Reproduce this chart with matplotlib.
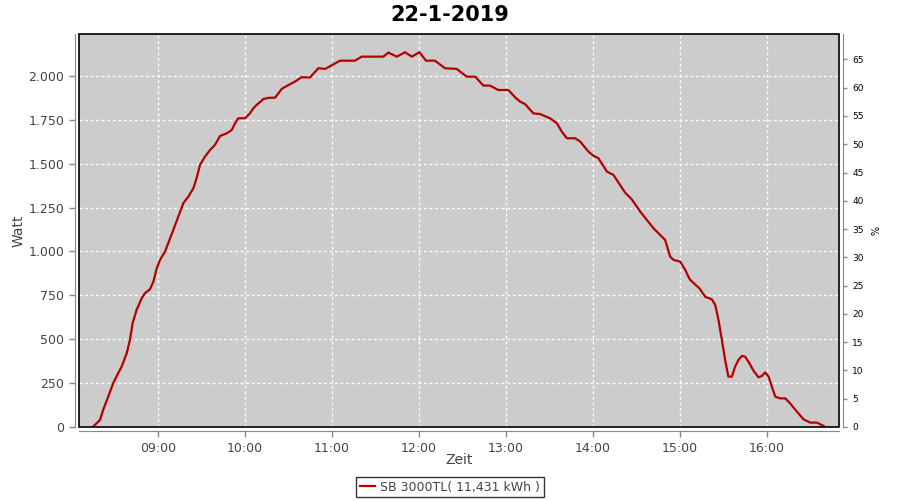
import matplotlib.pyplot as plt
import matplotlib.dates as mdates
from matplotlib.patches import Rectangle
from matplotlib.ticker import FuncFormatter, MultipleLocator
import pandas as pd

zeiten = ["08:15:00", "08:20:00", "08:22:10", "08:25:40", "08:29:05", "08:31:30", "08:34:55", "08:38:25", "08:40:40", "08:42:30",
          "08:45:15", "08:48:45", "08:51:00", "08:54:30", "08:56:50", "08:59:10", "09:01:25", "09:04:50", "09:07:05", "09:10:35",
          "09:14:00", "09:17:30", "09:20:55", "09:24:25", "09:26:40", "09:29:00", "09:32:25", "09:35:55", "09:39:20", "09:42:50",
          "09:47:25", "09:50:55", "09:53:10", "09:55:25", "10:00:05", "10:03:30", "10:05:50", "10:08:05", "10:11:35", "10:12:40",
          "10:17:20", "10:20:50", "10:25:25", "10:28:55", "10:34:35", "10:39:10", "10:44:55", "10:50:40", "10:55:20", "11:01:00",
          "11:05:40", "11:16:00", "11:20:35", "11:35:30", "11:39:00", "11:44:50", "11:50:30", "11:55:10", "12:00:25", "12:05:00",
          "12:11:10", "12:18:05", "12:26:10", "12:33:05", "12:38:55", "12:44:35", "12:49:10", "12:54:55", "13:01:50", "13:06:30",
          "13:09:55", "13:13:25", "13:19:05", "13:23:40", "13:30:35", "13:35:20", "13:38:40", "13:42:10", "13:47:55", "13:51:25",
          "13:57:05", "14:00:30", "14:04:00", "14:09:50", "14:14:20", "14:18:55", "14:22:25", "14:27:00", "14:32:50", "14:37:25",
          "14:42:00", "14:46:35", "14:50:00", "14:53:30", "14:55:50", "15:00:25", "15:03:55", "15:06:05", "15:07:20", "15:13:40",
          "15:17:40", "15:22:20", "15:24:35", "15:26:50", "15:29:10", "15:31:25", "15:33:40", "15:36:05", "15:38:20", "15:40:35",
          "15:43:00", "15:45:10", "15:47:30", "15:51:00", "15:54:25", "15:56:50", "15:59:00", "16:01:25", "16:03:40", "16:06:00",
          "16:09:25", "16:12:55", "16:16:20", "16:21:00", "16:25:30", "16:30:10", "16:34:50", "16:39:20"]
watt = [0, 40, 97, 173, 249, 290, 344, 420, 496, 591,
        667, 733, 762, 785, 828, 904, 952, 999, 1047, 1123,
        1198, 1275, 1312, 1360, 1417, 1493, 1540, 1578, 1607, 1658,
        1673, 1692, 1730, 1759, 1759, 1787, 1816, 1835, 1859, 1869,
        1876, 1876, 1926, 1943, 1968, 1993, 1991, 2044, 2040, 2066,
        2087, 2087, 2110, 2110, 2133, 2110, 2135, 2110, 2135, 2087,
        2087, 2044, 2040, 1996, 1996, 1945, 1945, 1920, 1920, 1878,
        1854, 1839, 1787, 1783, 1759, 1730, 1683, 1645, 1645, 1626,
        1569, 1546, 1531, 1455, 1436, 1379, 1335, 1297, 1227, 1179,
        1132, 1094, 1066, 970, 952, 942, 895, 856, 838, 790,
        742, 727, 695, 610, 496, 382, 287, 287, 344, 382,
        405, 401, 372, 321, 283, 291, 311, 287, 230, 173,
        163, 163, 134, 87, 44, 25, 25, 6]

datum = "2019-01-22"
titel = "22-1-2019"
legende = "SB 3000TL( 11,431 kWh )"

t = pd.to_datetime([datum + " " + z for z in zeiten])

grau = "#444444"
fig = plt.figure(figsize=(9, 5), dpi=100)
ax = fig.add_axes([79 / 900, 1 - 427 / 500, 760 / 900, 393 / 500])
ax.set_facecolor("#cccccc")

linie, = ax.plot(t, watt, color="#b40000", lw=1.6, label=legende)

ax.set_xlim(pd.Timestamp(datum + " 08:05:30"), pd.Timestamp(datum + " 16:50:00"))
ax.set_ylim(0, 2239)
ax.yaxis.set_major_locator(MultipleLocator(250))
ax.yaxis.set_major_formatter(FuncFormatter(lambda v, p: f"{int(v):,}".replace(",", ".")))
ax.xaxis.set_major_locator(mdates.HourLocator())
ax.xaxis.set_major_formatter(mdates.DateFormatter("%H:%M"))
ax.grid(True, color="white", linestyle=(0, (2, 2)), lw=1)

for s in ["top", "right"]:
    ax.spines[s].set_visible(False)
for s in ["left", "bottom"]:
    ax.spines[s].set_position(("outward", 3))
    ax.spines[s].set_color("#888888")
ax.tick_params(colors="#888888", labelcolor=grau, labelsize=9, length=4, width=1)
ax.set_ylabel("Watt", fontsize=10, color=grau)
ax.yaxis.set_label_coords(-0.071, 0.5)
ax.set_xlabel("Zeit", fontsize=10, color=grau)
ax.xaxis.set_label_coords(0.5, -0.066)

# rechte Achse in %
ax2 = ax.twinx()
ax2.set_ylim(0, 69.5)
ax2.yaxis.set_major_locator(MultipleLocator(5))
for s in ["top", "left", "bottom"]:
    ax2.spines[s].set_visible(False)
ax2.spines["right"].set_position(("outward", 3))
ax2.spines["right"].set_color("#888888")
ax2.tick_params(colors="#888888", labelcolor="black", labelsize=6.5, length=3, width=1)
ax2.set_ylabel("%", fontsize=7, rotation=270, labelpad=10)

# Rahmen um Plotbereich
ax.add_patch(Rectangle((0, 0), 1, 1, transform=ax.transAxes, fill=False,
                       edgecolor="black", lw=1.2, clip_on=False, zorder=5))

fig.suptitle(titel, fontsize=15, fontweight="bold", y=0.99, va="top")
leg = fig.legend(handles=[linie], loc="center", bbox_to_anchor=(0.5, 0.026),
                 fontsize=9, frameon=True, fancybox=False, handlelength=1.2,
                 borderpad=0.3, handletextpad=0.4, labelcolor=grau)
leg.get_frame().set_edgecolor("black")
leg.get_frame().set_linewidth(1)

plt.savefig("out.png", dpi=100)
